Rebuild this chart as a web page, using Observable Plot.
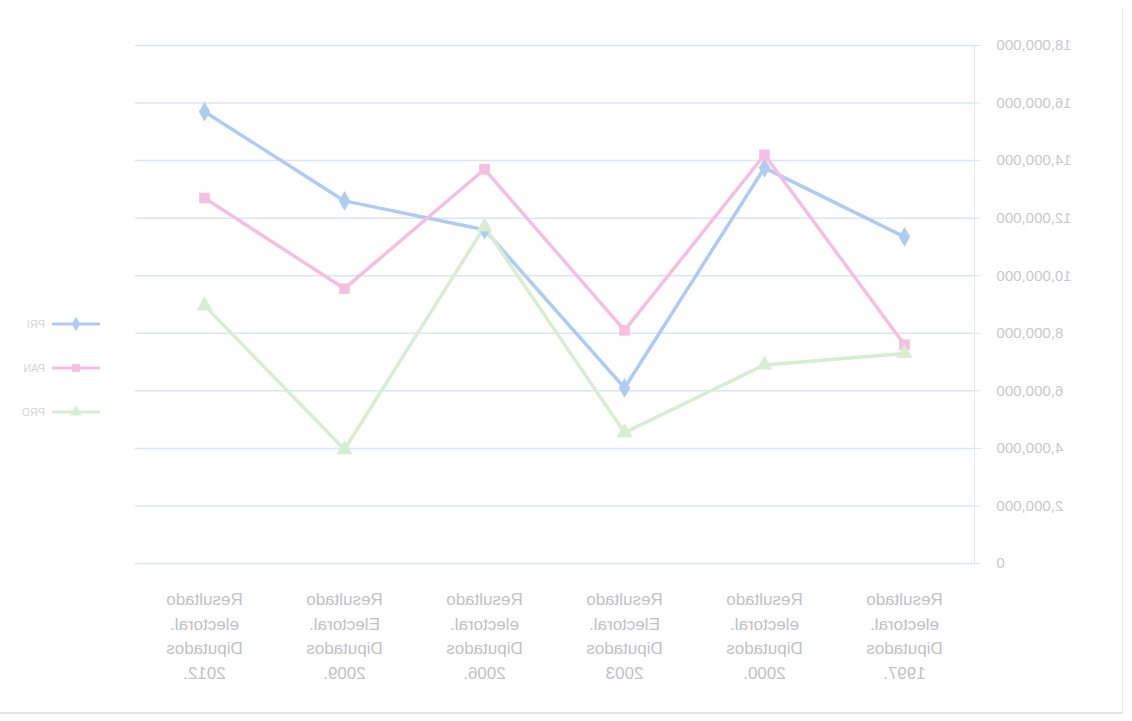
<!DOCTYPE html>
<html>
<head>
<meta charset="utf-8">
<script src="https://cdn.jsdelivr.net/npm/d3@7"></script>
<script src="https://cdn.jsdelivr.net/npm/@observablehq/plot@0.6"></script>
<style>
  html, body { margin: 0; padding: 0; background: #ffffff; }
  #wrap { position: relative; width: 1132px; height: 721px; transform: scaleX(-1); overflow: hidden; font-family: "Liberation Sans", Arial, sans-serif; }
  #frame { position: absolute; left: 9px; top: 8px; width: 1123px; height: 706px; border-left: 1px solid #e8e8ec; border-bottom: 2px solid #e4e4e8; box-sizing: border-box; }
  #chart { position: absolute; left: 0; top: 0; }
  #legend { position: absolute; left: 1030px; top: 302px; font-size: 11px; color: #d6d6d6; }
  .row { display: flex; align-items: center; height: 44px; }
  .row svg { margin-right: 5px; }
</style>
</head>
<body>
<div id="wrap">
  <div id="frame"></div>
  <div id="chart"></div>
  <div id="legend"></div>
</div>
<script>
// ---- data ----
const years = [1997, 2000, 2003, 2006, 2009, 2012];
const tickLabels = [
  "Resultado\nelectoral.\nDiputados\n1997.",
  "Resultado\nelectoral.\nDiputados\n2000.",
  "Resultado\nElectoral.\nDiputados\n2003",
  "Resultado\nelectoral.\nDiputados\n2006.",
  "Resultado\nElectoral.\nDiputados\n2009.",
  "Resultado\nelectoral.\nDiputados\n2012."
];
const seriesNames = ["PRI", "PAN", "PRD"];
const pri = [11350000, 13750000, 6100000, 11600000, 12600000, 15700000];
const pan = [7600000, 14200000, 8100000, 13700000, 9550000, 12700000];
const prd = [7300000, 6900000, 4550000, 11700000, 3960000, 8960000];
const yTicks = [0, 2000000, 4000000, 6000000, 8000000, 10000000, 12000000, 14000000, 16000000, 18000000];
const colors = ["#b0cbf0", "#f3c0e2", "#d8edd2"];
const symbols = ["diamond", "square", "triangle"];

const rows = [];
[pri, pan, prd].forEach((vals, s) => {
  vals.forEach((v, i) => rows.push({series: seriesNames[s], year: years[i], value: v}));
});

const labelOf = new Map(years.map((y, i) => [y, tickLabels[i]]));

const chart = Plot.plot({
  width: 1132,
  height: 721,
  marginLeft: 157,
  marginRight: 135,
  marginTop: 45,
  marginBottom: 158,
  style: {fontFamily: "'Liberation Sans', Arial, sans-serif", background: "transparent"},
  x: {type: "point", domain: years, padding: 0.5},
  y: {domain: [0, 18000000]},
  color: {domain: seriesNames, range: colors},
  symbol: {domain: seriesNames, range: symbols},
  marks: [
    Plot.gridY(yTicks, {stroke: "#dde4f5", strokeOpacity: 1, strokeWidth: 1.5}),
    Plot.axisY({ticks: yTicks, tickFormat: d3.format(","), tickSize: 6, tickPadding: 16, fontSize: 15, fill: "#c9c9cc", stroke: "#dde4f5", label: null}),
    Plot.frame({anchor: "left", stroke: "#e2e6f0"}),
    Plot.axisX({tickFormat: d => labelOf.get(d), tickSize: 0, tickPadding: 24, fontSize: 17, lineHeight: 1.45, fill: "#c2c2c5", label: null}),
    Plot.line(rows, {x: "year", y: "value", z: "series", stroke: "series", strokeWidth: 3.5}),
    Plot.dot(rows, {x: "year", y: "value", symbol: "series", fill: "series", r: 6})
  ]
});
document.getElementById("chart").appendChild(chart);

// legend
const legend = document.getElementById("legend");
const legendSymbols = [d3.symbolDiamond, d3.symbolSquare, d3.symbolTriangle];
seriesNames.forEach((name, s) => {
  const row = document.createElement("div");
  row.className = "row";
  const sw = d3.create("svg").attr("width", 52).attr("height", 14);
  sw.append("line").attr("x1", 2).attr("x2", 50).attr("y1", 7).attr("y2", 7).attr("stroke", colors[s]).attr("stroke-width", 3);
  sw.append("path").attr("transform", "translate(26,7)").attr("d", d3.symbol(legendSymbols[s], 60)()).attr("fill", colors[s]);
  row.appendChild(sw.node());
  const t = document.createElement("span");
  t.textContent = name;
  row.appendChild(t);
  legend.appendChild(row);
});
</script>
</body>
</html>
